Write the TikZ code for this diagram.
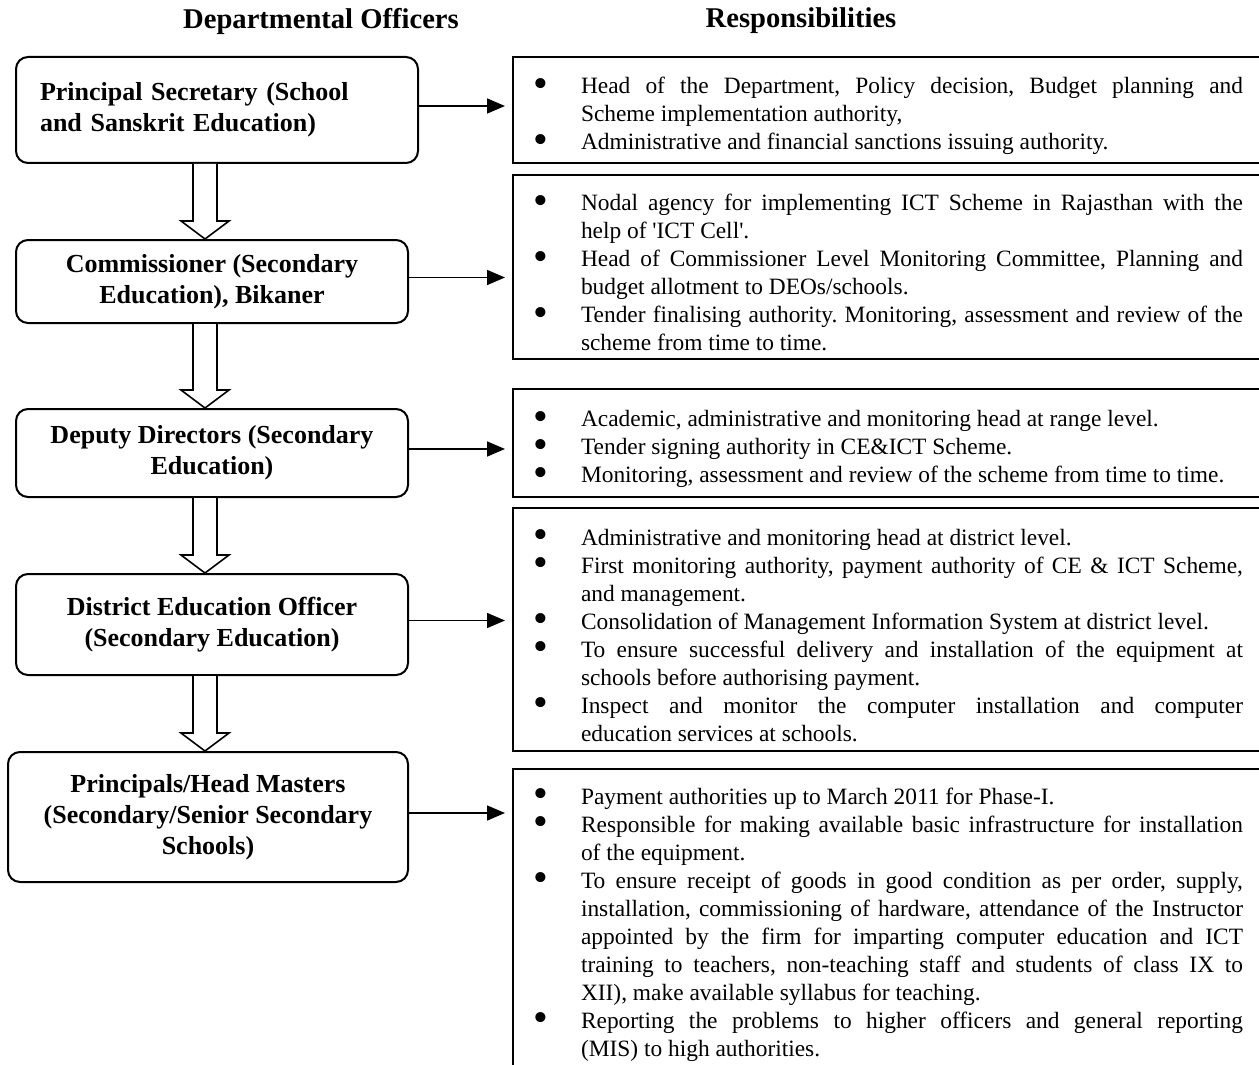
\documentclass[tikz,border=0pt]{standalone}
\usepackage{fontspec}
\setmainfont{Liberation Serif}
\usetikzlibrary{arrows.meta,calc}

\newenvironment{resplist}{%
  \fontsize{11.7}{14}\selectfont\frenchspacing
  \hyphenpenalty=10000 \exhyphenpenalty=10000
  \begin{list}{\makebox[0pt]{\raisebox{-1.8pt}{\scalebox{1.8}{\textbullet}}}}{%
    \setlength{\leftmargin}{34pt}\setlength{\rightmargin}{14pt}%
    \setlength{\labelwidth}{0pt}\setlength{\labelsep}{20pt}%
    \setlength{\itemsep}{0pt}\setlength{\parsep}{0pt}%
    \setlength{\topsep}{0pt}\setlength{\partopsep}{0pt}}}%
  {\end{list}}

\tikzset{
  head/.style={font=\fontsize{14.3}{17}\selectfont\bfseries},
  officer/.style={draw, line width=1pt, rounded corners=6pt, align=center,
    font=\fontsize{13}{15.5}\selectfont\bfseries},
  resp/.style={draw, line width=1pt, anchor=west, inner xsep=0pt, align=justify,
    text width=379pt, minimum width=379pt},
  respline/.style={line width=0.8pt, -{Triangle[length=9pt,width=7.5pt]}, shorten >=3.5pt}
}

\begin{document}
\begin{tikzpicture}[x=0.5pt,y=-0.5pt]
\useasboundingbox (0,0) rectangle (1259,1065);
\clip (0,0) rectangle (1259,1065);

\node[head] (hoff) at (321,21) {Departmental Officers};
\node[head] (hresp) at (801,21) {Responsibilities};

% officers
\node[officer, minimum width=201pt, minimum height=53pt, text width=177pt,
  inner xsep=12pt, align=left] (b1) at (217,110)
  {Principal Secretary (School\\and Sanskrit Education)};
\node[officer, minimum width=196pt, minimum height=41.5pt] (b2) at (212,281.5)
  {Commissioner (Secondary\\Education), Bikaner};
\node[officer, minimum width=196pt, minimum height=44pt] (b3) at (212,453)
  {Deputy Directors (Secondary\\Education)};
\node[officer, minimum width=196pt, minimum height=50.5pt] (b4) at (212,624.5)
  {District Education Officer\\(Secondary Education)};
\node[officer, minimum width=200pt, minimum height=65pt] (b5) at (208,817)
  {Principals/Head Masters\\(Secondary/Senior Secondary\\Schools)};

% responsibilities
\node[resp, minimum height=53pt] (r1) at (512,110) {\begin{resplist}
\item Head of the Department, Policy decision, Budget planning and\linebreak
Scheme implementation authority,
\item Administrative and financial sanctions issuing authority.
\end{resplist}};
\node[resp, minimum height=92pt] (r2) at (512,267) {\begin{resplist}
\item Nodal agency for implementing ICT Scheme in Rajasthan with the\linebreak
help of \textquotesingle ICT Cell\textquotesingle.
\item Head of Commissioner Level Monitoring Committee, Planning and\linebreak
budget allotment to DEOs/schools.
\item Tender finalising authority. Monitoring, assessment and review of the\linebreak
scheme from time to time.
\end{resplist}};
\node[resp, minimum height=54pt] (r3) at (512,443) {\begin{resplist}
\item Academic, administrative and monitoring head at range level.
\item Tender signing authority in CE\&ICT Scheme.
\item Monitoring, assessment and review of the scheme from time to time.
\end{resplist}};
\node[resp, minimum height=121.5pt] (r4) at (512,629.5) {\begin{resplist}
\item Administrative and monitoring head at district level.
\item First monitoring authority, payment authority of CE \& ICT Scheme,\linebreak
and management.
\item Consolidation of Management Information System at district level.
\item To ensure successful delivery and installation of the equipment at\linebreak
schools before authorising payment.
\item Inspect and monitor the computer installation and computer\linebreak
education services at schools.
\end{resplist}};
\node[resp, anchor=north west, inner ysep=3.5pt] (r5) at (512,768) {\begin{resplist}
\item Payment authorities up to March 2011 for Phase-I.
\item Responsible for making available basic infrastructure for installation\linebreak
of the equipment.
\item To ensure receipt of goods in good condition as per order, supply,\linebreak
installation, commissioning of hardware, attendance of the Instructor\linebreak
appointed by the firm for imparting computer education and ICT\linebreak
training to teachers, non-teaching staff and students of class IX to\linebreak
XII), make available syllabus for teaching.
\item Reporting the problems to higher officers and general reporting\linebreak
(MIS) to high authorities.
\end{resplist}};

% hollow arrows down the chain
\coordinate (axis) at (205,0);
\foreach \a/\b in {b1/b2,b2/b3,b3/b4,b4/b5}
\draw[line width=0.8pt, fill=white] ($(\a.south -| axis)+(-6pt,0)$)
  -- ($(\b.north -| axis)+(-6pt,9pt)$) -- ++(-6pt,0) -- (\b.north -| axis)
  -- ++(12pt,9pt) -- ++(-6pt,0) -- ($(\a.south -| axis)+(6pt,0)$);

\foreach \n in {1,...,5}
\draw[respline] ([yshift=2pt]b\n.east) -- ([yshift=2pt]b\n.east -| r\n.west);
\end{tikzpicture}
\end{document}
